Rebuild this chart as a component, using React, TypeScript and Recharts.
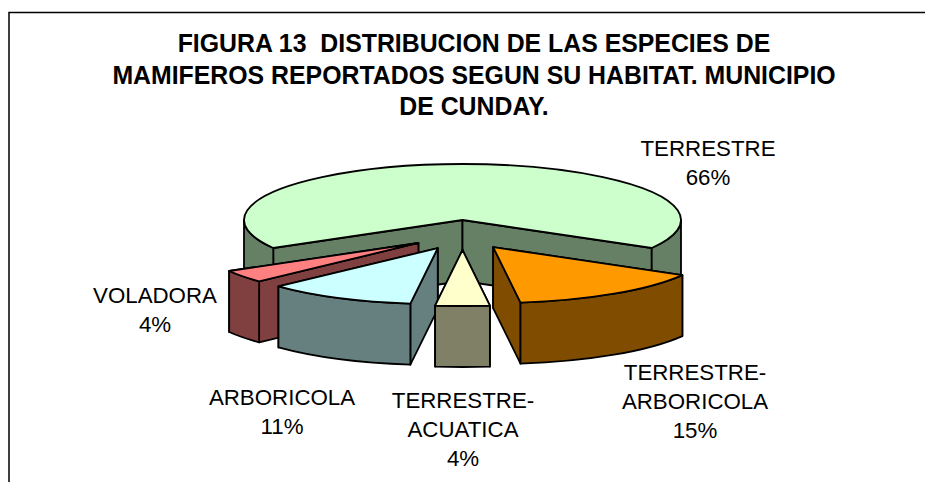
import React from 'react';
import { PieChart, Pie, Cell } from 'recharts';

const categories = ['TERRESTRE', 'VOLADORA', 'ARBORICOLA', 'TERRESTRE-ACUATICA', 'TERRESTRE-ARBORICOLA'];
const percents = [66, 4, 11, 4, 15];
const titleLines = [
  'FIGURA 13  DISTRIBUCION DE LAS ESPECIES DE',
  'MAMIFEROS REPORTADOS SEGUN SU HABITAT. MUNICIPIO',
  'DE CUNDAY.',
];

const topColors = ['#CCFFCC', '#FF8080', '#CCFFFF', '#FFFFCC', '#FF9900'];
const wallColors = ['#668066', '#804040', '#668080', '#808066', '#804C00'];

// label anchor (centre x, first baseline y) per slice
const labelX = [708, 155, 282, 463, 695];
const labelY = [156, 303, 405, 408, 380];
const lineStep = 29;

const WIDTH = 925;
const HEIGHT = 482;
const CX = 462.5;
const CY = 220;
const RX = 218.5;
const RY = 56;
const DEPTH = 61;
const FONT = '"Liberation Sans", Arial, sans-serif';

const data = categories.map((name, i) => ({ name, value: percents[i] }));

const rad = (a: number) => (a * Math.PI) / 180;

// squashed, extruded and exploded version of the sector recharts hands us
function Slice3D(props: any) {
  const { cx, cy, outerRadius, startAngle, endAngle, midAngle, index } = props;
  const kx = outerRadius;
  const ky = (outerRadius * RY) / RX;
  const mid = midAngle ?? (startAngle + endAngle) / 2;
  const s = Math.sin(rad(mid));
  // only the front slices get pulled out
  const ox = s < 0 ? 54.5 * Math.cos(rad(mid)) : 0;
  const oy = s < 0 ? 13 + 17 * Math.abs(s) : 0;
  const ax = cx + ox;
  const ay = cy + oy;
  const pt = (a: number) => {
    // excel's perspective pulls the outer front corners in a little
    const c = Math.cos(rad(a));
    const b = Math.sin(rad(a)) < -0.01 && Math.abs(c) > 0.8 ? a - 1.37 * c : a;
    return [ax + kx * Math.cos(rad(b)), ay - ky * Math.sin(rad(b))];
  };
  const [sx, sy] = pt(startAngle);
  const [ex, ey] = pt(endAngle);
  const large = endAngle - startAngle > 180 ? 1 : 0;
  const top = `M${ax},${ay}L${sx},${sy}A${kx},${ky} 0 ${large} 0 ${ex},${ey}Z`;

  const radial = (a: number) => {
    const [x, y] = pt(a);
    return `M${ax},${ay}L${x},${y}L${x},${y + DEPTH}L${ax},${ay + DEPTH}Z`;
  };
  // back face first so the front one paints over it
  const faces = [startAngle, endAngle].sort((a, b) => Math.sin(rad(b)) - Math.sin(rad(a)));

  const arcs: string[] = [];
  [[-180, 0], [180, 360]].forEach(([lo, hi]) => {
    const a1 = Math.max(lo, startAngle);
    const a2 = Math.min(hi, endAngle);
    if (a2 <= a1) return;
    const [x1, y1] = pt(a1);
    const [x2, y2] = pt(a2);
    arcs.push(
      `M${x1},${y1}A${kx},${ky} 0 0 0 ${x2},${y2}L${x2},${y2 + DEPTH}A${kx},${ky} 0 0 1 ${x1},${y1 + DEPTH}Z`
    );
  });

  const line = { stroke: '#000', strokeWidth: 1.8, strokeLinejoin: 'round' as const };
  return (
    <g>
      {faces.map((a) => (
        <path key={`f${a}`} d={radial(a)} fill={wallColors[index]} {...line} />
      ))}
      {arcs.map((d) => (
        <path key={d} d={d} fill={wallColors[index]} {...line} />
      ))}
      <path d={top} fill={topColors[index]} {...line} />
    </g>
  );
}

function sliceLabel(props: any) {
  const { index, name, value } = props;
  const lines = [...String(name).replace('-', '-\n').split('\n'), `${value}%`];
  return (
    <text key={name} textAnchor="middle" fontFamily={FONT} fontSize={22.3} fill="#000">
      {lines.map((t, i) => (
        <tspan key={t} x={labelX[index]} y={labelY[index] + i * lineStep}>
          {t}
        </tspan>
      ))}
    </text>
  );
}

export default function App() {
  return (
    <div style={{ position: 'absolute', left: 0, top: 0, width: WIDTH, height: HEIGHT }}>
      <PieChart width={WIDTH} height={HEIGHT} margin={{ top: 0, right: 0, bottom: 0, left: 0 }}>
        <path d="M9,482V12.5H925" fill="none" stroke="#000" strokeWidth={1.5} />
        <text textAnchor="middle" fontFamily={FONT} fontSize={24.85} fontWeight="bold" fill="#000">
          {titleLines.map((t, i) => (
            <tspan key={t} x={474} y={52 + i * 31.5} xmlSpace="preserve">
              {t}
            </tspan>
          ))}
        </text>
        <Pie
          data={data}
          dataKey="value"
          nameKey="name"
          cx={CX}
          cy={CY}
          innerRadius={0}
          outerRadius={RX}
          startAngle={-28.8}
          endAngle={331.2}
          stroke="none"
          labelLine={false}
          label={sliceLabel}
          shape={Slice3D}
          inactiveShape={Slice3D}
          activeShape={Slice3D}
          isAnimationActive={false}
        >
          {data.map((d, i) => (
            <Cell key={d.name} fill={topColors[i]} />
          ))}
        </Pie>
      </PieChart>
    </div>
  );
}
